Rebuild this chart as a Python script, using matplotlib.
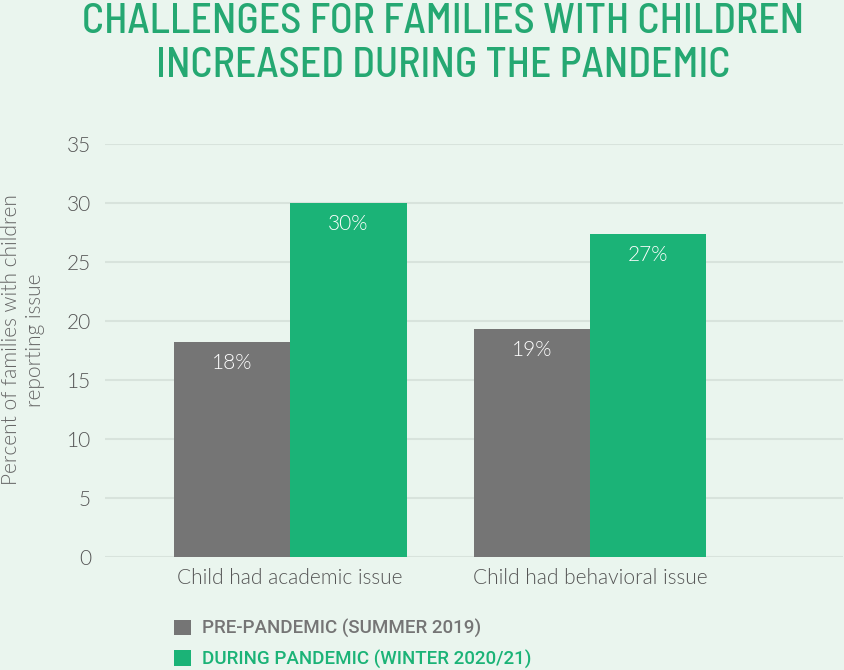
import numpy as np
import matplotlib
matplotlib.use("Agg")
import matplotlib.pyplot as plt
from matplotlib.patches import Patch

# --- data ---
categories = ["Child had academic issue", "Child had behavioral issue"]
pre_pandemic = [18.2, 19.3]
during_pandemic = [30.0, 27.4]
series_names = ["PRE-PANDEMIC (SUMMER 2019)", "DURING PANDEMIC (WINTER 2020/21)"]
y_ticks = [0, 5, 10, 15, 20, 25, 30, 35]

# --- style ---
BG = "#EAF5EE"
GREEN = "#1BB377"
GRAY = "#757575"
TITLE_GREEN = "#25A872"
GRID = "#D8E3DC"
TEXT = "#555555"
BODY_FONT = ["Lato", "DejaVu Sans"]

fig = plt.figure(figsize=(8.44, 6.7), dpi=100, facecolor=BG)
ax = fig.add_axes([105 / 844, 1 - 557 / 670, 738 / 844, 413 / 670])
ax.set_facecolor(BG)

x = np.arange(len(categories))
w = 0.388
bars_pre = ax.bar(x - w / 2, pre_pandemic, w, color=GRAY, zorder=3)
bars_dur = ax.bar(x + w / 2, during_pandemic, w, color=GREEN, zorder=3)

# value labels inside the top of each bar
for bars in (bars_pre, bars_dur):
    for b in bars:
        h = b.get_height()
        ax.annotate(f"{h:.0f}%", (b.get_x() + b.get_width() / 2, h),
                    xytext=(0, -15), textcoords="offset points",
                    ha="center", va="center", color="white",
                    fontsize=15, family=BODY_FONT, fontweight=300, zorder=4)

ax.set_xlim(-0.617, 1.843)
ax.set_ylim(0, 35)
ax.set_yticks(y_ticks)
ax.set_xticks(x)
ax.set_xticklabels(categories)
ax.yaxis.grid(True, color=GRID, linewidth=1.5, zorder=0)
ax.tick_params(length=0, colors=TEXT, labelsize=15)
ax.tick_params(axis="y", pad=10)
ax.tick_params(axis="x", pad=8)
for lbl in ax.get_xticklabels() + ax.get_yticklabels():
    lbl.set_family(BODY_FONT)
    lbl.set_fontweight(300)
for s in ax.spines.values():
    s.set_visible(False)

fig.text(23 / 844, 1 - 340 / 670, "Percent of families with children\nreporting issue",
         rotation=90, ha="center", va="center", multialignment="center",
         color="#666666", fontsize=15, family=BODY_FONT, fontweight=300)

fig.text(443 / 844, 1 - 44 / 670,
         "CHALLENGES FOR FAMILIES WITH CHILDREN\nINCREASED DURING THE PANDEMIC",
         ha="center", va="center", multialignment="center", linespacing=1.2,
         color=TITLE_GREEN, fontsize=30, family=["Barlow Semi Condensed", "DejaVu Sans"],
         fontweight=500)

handles = [Patch(facecolor=GRAY), Patch(facecolor=GREEN)]
leg = fig.legend(handles, series_names, loc="upper left",
                 bbox_to_anchor=(174 / 844, 1 - 619 / 670), frameon=False,
                 borderpad=0, borderaxespad=0, handlelength=0.9, handleheight=0.86,
                 handletextpad=0.58, labelspacing=0.62,
                 prop={"family": ["Roboto", "DejaVu Sans"],
                       "weight": 500, "size": 13.5})
for t, c in zip(leg.get_texts(), [GRAY, GREEN]):
    t.set_color(c)

fig.savefig("out.png", dpi=100, facecolor=BG)
